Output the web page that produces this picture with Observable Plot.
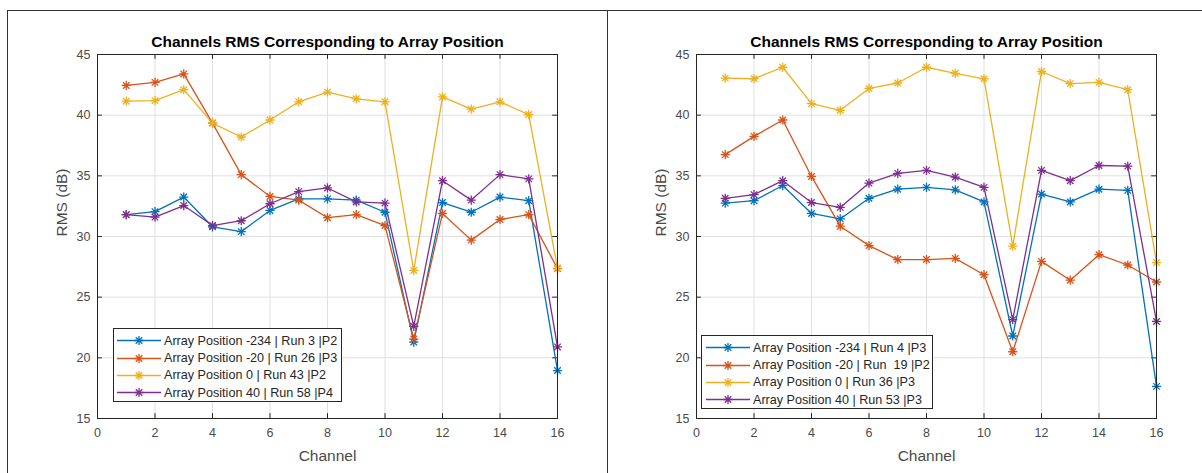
<!DOCTYPE html>
<html>
<head>
<meta charset="utf-8">
<script src="https://cdn.jsdelivr.net/npm/d3@7"></script>
<script src="https://cdn.jsdelivr.net/npm/@observablehq/plot@0.6"></script>
<style>
  html, body { margin: 0; padding: 0; background: #fff; }
  #wrap { position: relative; width: 1202px; height: 473px; overflow: hidden; font-family: "Liberation Sans", Arial, sans-serif; }
  .chart { position: absolute; top: 0; }
  .frame-top { position: absolute; left: 7px; top: 10px; width: 1195px; height: 0; border-top: 1.3px solid #333; }
  .frame-left { position: absolute; left: 7px; top: 10px; width: 0; height: 470px; border-left: 1.3px solid #333; }
  .frame-mid { position: absolute; left: 607px; top: 10px; width: 0; height: 470px; border-left: 1.3px solid #333; }
  .legend { position: absolute; background: #fff; border: 1px solid #262626; box-sizing: border-box; padding-top: 3px; }
  .legend .row { display: flex; align-items: center; height: 17.4px; font-size: 12.6px; color: #262626; white-space: pre; }
  .legend svg { flex: none; }
</style>
</head>
<body>
<div id="wrap"></div>
<script>
// ---- data ----
const channels = [1, 2, 3, 4, 5, 6, 7, 8, 9, 10, 11, 12, 13, 14, 15, 16];
const xTicks = [0, 2, 4, 6, 8, 10, 12, 14, 16];
const yTicks = [15, 20, 25, 30, 35, 40, 45];
const titleText = "Channels RMS Corresponding to Array Position";
const xLabel = "Channel";
const yLabel = "RMS (dB)";
const seriesColors = ["#0072BD", "#D95319", "#EDB120", "#7E2F8E"];

// Left panel
const leftLabels = [
  "Array Position -234 | Run 3 |P2",
  "Array Position -20 | Run 26 |P3",
  "Array Position 0 | Run 43 |P2",
  "Array Position 40 | Run 58 |P4"
];
const leftBlue   = [31.8, 32.05, 33.25, 30.8, 30.4, 32.15, 33.1, 33.1, 33.0, 32.0, 21.3, 32.8, 32.0, 33.25, 32.95, 18.95];
const leftRed    = [42.45, 42.7, 43.4, 39.35, 35.1, 33.3, 33.0, 31.55, 31.8, 30.9, 21.55, 31.9, 29.7, 31.4, 31.8, 27.35];
const leftYellow = [41.15, 41.2, 42.1, 39.35, 38.2, 39.6, 41.1, 41.9, 41.35, 41.1, 27.2, 41.5, 40.5, 41.1, 40.05, 27.4];
const leftPurple = [31.8, 31.6, 32.55, 30.9, 31.3, 32.7, 33.7, 34.0, 32.85, 32.75, 22.6, 34.6, 33.0, 35.1, 34.75, 20.9];

// Right panel
const rightLabels = [
  "Array Position -234 | Run 4 |P3",
  "Array Position -20 | Run  19 |P2",
  "Array Position 0 | Run 36 |P3",
  "Array Position 40 | Run 53 |P3"
];
const rightBlue   = [32.75, 32.95, 34.2, 31.9, 31.45, 33.15, 33.9, 34.05, 33.85, 32.85, 21.8, 33.5, 32.85, 33.9, 33.8, 17.65];
const rightRed    = [36.75, 38.25, 39.6, 34.95, 30.85, 29.25, 28.1, 28.1, 28.2, 26.85, 20.5, 27.95, 26.4, 28.5, 27.65, 26.25];
const rightYellow = [43.05, 43.0, 43.95, 40.95, 40.4, 42.2, 42.65, 43.95, 43.45, 43.0, 29.2, 43.6, 42.6, 42.7, 42.1, 27.85];
const rightPurple = [33.15, 33.45, 34.6, 32.8, 32.4, 34.4, 35.2, 35.45, 34.9, 34.05, 23.15, 35.45, 34.6, 35.85, 35.8, 23.0];

// ---- helpers ----
const star8 = {
  draw(ctx, size) {
    const r = Math.sqrt(size / Math.PI);
    const d = r * Math.SQRT1_2;
    ctx.moveTo(0, -r); ctx.lineTo(0, r);
    ctx.moveTo(-r, 0); ctx.lineTo(r, 0);
    ctx.moveTo(-d, -d); ctx.lineTo(d, d);
    ctx.moveTo(-d, d); ctx.lineTo(d, -d);
  }
};

function buildRows(labels, arrays) {
  const rows = [];
  arrays.forEach((arr, i) => arr.forEach((v, j) => rows.push({series: labels[i], channel: channels[j], rms: v})));
  return rows;
}

function makeChart(labels, arrays, width, mLeft, mRight) {
  const rows = buildRows(labels, arrays);
  const textColor = "#262626";
  const tickGray = "#4a4a4a";
  return Plot.plot({
    width, height: 473,
    marginLeft: mLeft, marginRight: mRight, marginTop: 54, marginBottom: 55,
    style: {background: "transparent", fontFamily: "'Liberation Sans', Arial, sans-serif", fontSize: "12px", color: textColor},
    x: {domain: [0, 16], ticks: xTicks, label: null},
    y: {domain: [15, 45], ticks: yTicks, label: null},
    color: {domain: labels, range: seriesColors},
    marks: [
      Plot.ruleX(xTicks, {x: d => d, stroke: "#e0e0e0", strokeWidth: 1}),
      Plot.ruleY(yTicks, {y: d => d, stroke: "#e0e0e0", strokeWidth: 1}),
      Plot.axisX({ticks: xTicks, tickSize: 0, tickPadding: 10, fill: tickGray, fontSize: 12.5}),
      Plot.axisY({ticks: yTicks, tickSize: 0, tickPadding: 7, fill: tickGray, fontSize: 12.5}),
      Plot.ruleX(xTicks, {x: d => d, y1: 15, y2: 15.4, stroke: textColor}),
      Plot.ruleX(xTicks, {x: d => d, y1: 44.6, y2: 45, stroke: textColor}),
      Plot.ruleY(yTicks, {y: d => d, x1: 0, x2: 0.17, stroke: textColor}),
      Plot.ruleY(yTicks, {y: d => d, x1: 15.83, x2: 16, stroke: textColor}),
      Plot.line(rows, {x: "channel", y: "rms", z: "series", stroke: "series", strokeWidth: 1.3}),
      Plot.dot(rows, {x: "channel", y: "rms", stroke: "series", symbol: star8, r: 4.6, strokeWidth: 1.3}),
      Plot.frame({stroke: textColor, strokeWidth: 1}),
      Plot.text([titleText], {text: d => d, frameAnchor: "top", dy: -19, fontWeight: "bold", fontSize: 15.5, fill: "#000"}),
      Plot.text([xLabel], {text: d => d, frameAnchor: "bottom", dy: 42, fontSize: 15.5, fill: tickGray}),
      Plot.text([yLabel], {text: d => d, frameAnchor: "left", dx: -35, rotate: -90, fontSize: 15.5, fill: tickGray})
    ]
  });
}

function makeLegend(labels, left, top, width, height, lineX0, lineX1, markX) {
  const box = document.createElement("div");
  box.className = "legend";
  Object.assign(box.style, {left: left + "px", top: top + "px", width: width + "px", height: height + "px"});
  labels.forEach((lab, i) => {
    const row = document.createElement("div");
    row.className = "row";
    const svg = d3.create("svg").attr("width", lineX1 + 3).attr("height", 17);
    svg.append("line").attr("x1", lineX0).attr("x2", lineX1).attr("y1", 8.5).attr("y2", 8.5)
      .attr("stroke", seriesColors[i]).attr("stroke-width", 1.3);
    svg.append("path").attr("transform", `translate(${markX},8.5)`)
      .attr("d", d3.symbol(star8, Math.PI * 4.6 * 4.6)())
      .attr("stroke", seriesColors[i]).attr("stroke-width", 1.3).attr("fill", "none");
    row.appendChild(svg.node());
    const span = document.createElement("span");
    span.textContent = lab;
    row.appendChild(span);
    box.appendChild(row);
  });
  return box;
}

const wrap = document.getElementById("wrap");

const left = makeChart(leftLabels, [leftBlue, leftRed, leftYellow, leftPurple], 608, 97, 51);
left.classList.add("chart");
left.style.left = "0px";
wrap.appendChild(left);

const right = makeChart(rightLabels, [rightBlue, rightRed, rightYellow, rightPurple], 594, 88, 46);
right.classList.add("chart");
right.style.left = "608px";
wrap.appendChild(right);

wrap.appendChild(makeLegend(leftLabels, 113, 328, 229, 74, 3, 47, 25));
wrap.appendChild(makeLegend(rightLabels, 701, 335, 232, 74, 4, 48, 26));

["frame-top", "frame-left", "frame-mid"].forEach(c => {
  const d = document.createElement("div");
  d.className = c;
  wrap.appendChild(d);
});
</script>
</body>
</html>
